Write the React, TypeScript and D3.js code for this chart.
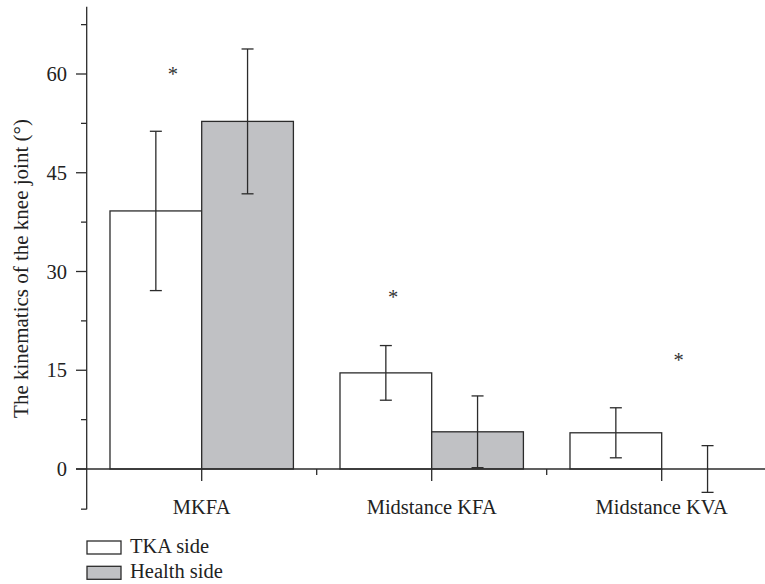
import * as d3 from 'd3';

const WIDTH = 765;
const HEIGHT = 584;

// data
const CATEGORIES = ['MKFA', 'Midstance KFA', 'Midstance KVA'];
const SERIES = ['TKA side', 'Health side'];
const TKA_MEAN = [39.2, 14.6, 5.5];
const TKA_SD = [12.1, 4.15, 3.8];
const HEALTH_MEAN = [52.8, 5.65, 0];
const HEALTH_SD = [11.0, 5.45, 3.55];
const Y_MAJOR = [0, 15, 30, 45, 60];
const Y_MINOR = [7.5, 22.5, 37.5, 52.5, 67.5];
// significance stars: value and horizontal offset (fraction of a band) from the group centre
const STAR_VALUE = [60.3, 26.4, 16.8];
const STAR_OFFSET = [-0.125, -0.168, 0.074];

const FILLS = ['#ffffff', '#c0c1c4'];
const INK = '#2b2b2b';
const FONT = "'Liberation Serif', 'Times New Roman', serif";
const FS = 20.5;

const App = () => {
  const x = d3.scaleBand().domain(CATEGORIES).range([86.7, 776.7]).padding(0);
  const inner = d3
    .scaleBand()
    .domain(SERIES)
    .range([0, x.bandwidth()])
    .paddingInner(0)
    .paddingOuter(0.254);
  const y = d3.scaleLinear().domain([0, 60]).range([469, 74]);

  const means = [TKA_MEAN, HEALTH_MEAN];
  const sds = [TKA_SD, HEALTH_SD];

  const axisX = 86.7;
  const axisTop = y(70.2);
  const axisBottom = y(-6.1);

  const bars = CATEGORIES.map((cat, ci) =>
    SERIES.map((s, si) => {
      const bx = (x(cat) ?? 0) + (inner(s) ?? 0);
      const w = inner.bandwidth();
      const m = means[si][ci];
      const sd = sds[si][ci];
      const cx = bx + w / 2;
      return (
        <g key={cat + s}>
          {m > 0 && (
            <rect
              x={bx}
              y={y(m)}
              width={w}
              height={y(0) - y(m)}
              fill={FILLS[si]}
              stroke={INK}
              strokeWidth={1.3}
            />
          )}
          <g stroke={INK} strokeWidth={1.3}>
            <line x1={cx} x2={cx} y1={y(m + sd)} y2={y(m - sd)} />
            <line x1={cx - 6} x2={cx + 6} y1={y(m + sd)} y2={y(m + sd)} />
            <line x1={cx - 6} x2={cx + 6} y1={y(m - sd)} y2={y(m - sd)} />
          </g>
        </g>
      );
    })
  );

  // x ticks: long at category centres, short at boundaries
  const centreTicks = CATEGORIES.map((c) => (x(c) ?? 0) + x.bandwidth() / 2);
  const boundaryTicks = CATEGORIES.slice(1).map((c) => x(c) ?? 0);

  return (
    <svg
      width={WIDTH}
      height={HEIGHT}
      style={{ position: 'absolute', left: 0, top: 0, background: '#fff', fontFamily: FONT }}
    >
      {bars}

      {/* zero line */}
      <line x1={76} x2={WIDTH} y1={y(0)} y2={y(0)} stroke={INK} strokeWidth={1.3} />
      {centreTicks.map((t, i) => (
        <line key={'ct' + i} x1={t} x2={t} y1={y(0)} y2={y(0) + 12} stroke={INK} strokeWidth={1.3} />
      ))}
      {boundaryTicks.map((t, i) => (
        <line key={'bt' + i} x1={t} x2={t} y1={y(0)} y2={y(0) + 6} stroke={INK} strokeWidth={1.3} />
      ))}

      {/* y axis */}
      <line x1={axisX} x2={axisX} y1={axisTop} y2={axisBottom} stroke={INK} strokeWidth={1.3} />
      <line x1={81} x2={axisX} y1={axisBottom} y2={axisBottom} stroke={INK} strokeWidth={1.3} />
      {Y_MAJOR.map((v) => (
        <g key={'ym' + v}>
          <line x1={76} x2={axisX} y1={y(v)} y2={y(v)} stroke={INK} strokeWidth={1.3} />
          <text x={67} y={y(v)} dy="0.35em" textAnchor="end" fontSize={FS} fill="#222">
            {v}
          </text>
        </g>
      ))}
      {Y_MINOR.map((v) => (
        <line key={'yn' + v} x1={81} x2={axisX} y1={y(v)} y2={y(v)} stroke={INK} strokeWidth={1.3} />
      ))}
      <text
        transform={`translate(27.5,${(120 + 417) / 2}) rotate(-90)`}
        textAnchor="middle"
        fontSize={21}
        fill="#222"
      >
        The kinematics of the knee joint (°)
      </text>

      {/* category labels */}
      {CATEGORIES.map((c, i) => (
        <text key={'cl' + c} x={centreTicks[i]} y={514} textAnchor="middle" fontSize={FS} fill="#222">
          {c}
        </text>
      ))}

      {/* stars */}
      {CATEGORIES.map((c, i) => (
        <text
          key={'st' + c}
          x={centreTicks[i] + STAR_OFFSET[i] * x.bandwidth()}
          y={y(STAR_VALUE[i]) + 9}
          textAnchor="middle"
          fontSize={FS}
          fill="#333"
        >
          *
        </text>
      ))}

      {/* legend */}
      {SERIES.map((s, i) => (
        <g key={'lg' + s} transform={`translate(87,${541 + i * 25.3})`}>
          <rect x={0} y={0} width={34} height={13} fill={FILLS[i]} stroke={INK} strokeWidth={1.3} />
          <text x={43} y={12} fontSize={FS} fill="#222">
            {s}
          </text>
        </g>
      ))}
    </svg>
  );
};

export default App;
